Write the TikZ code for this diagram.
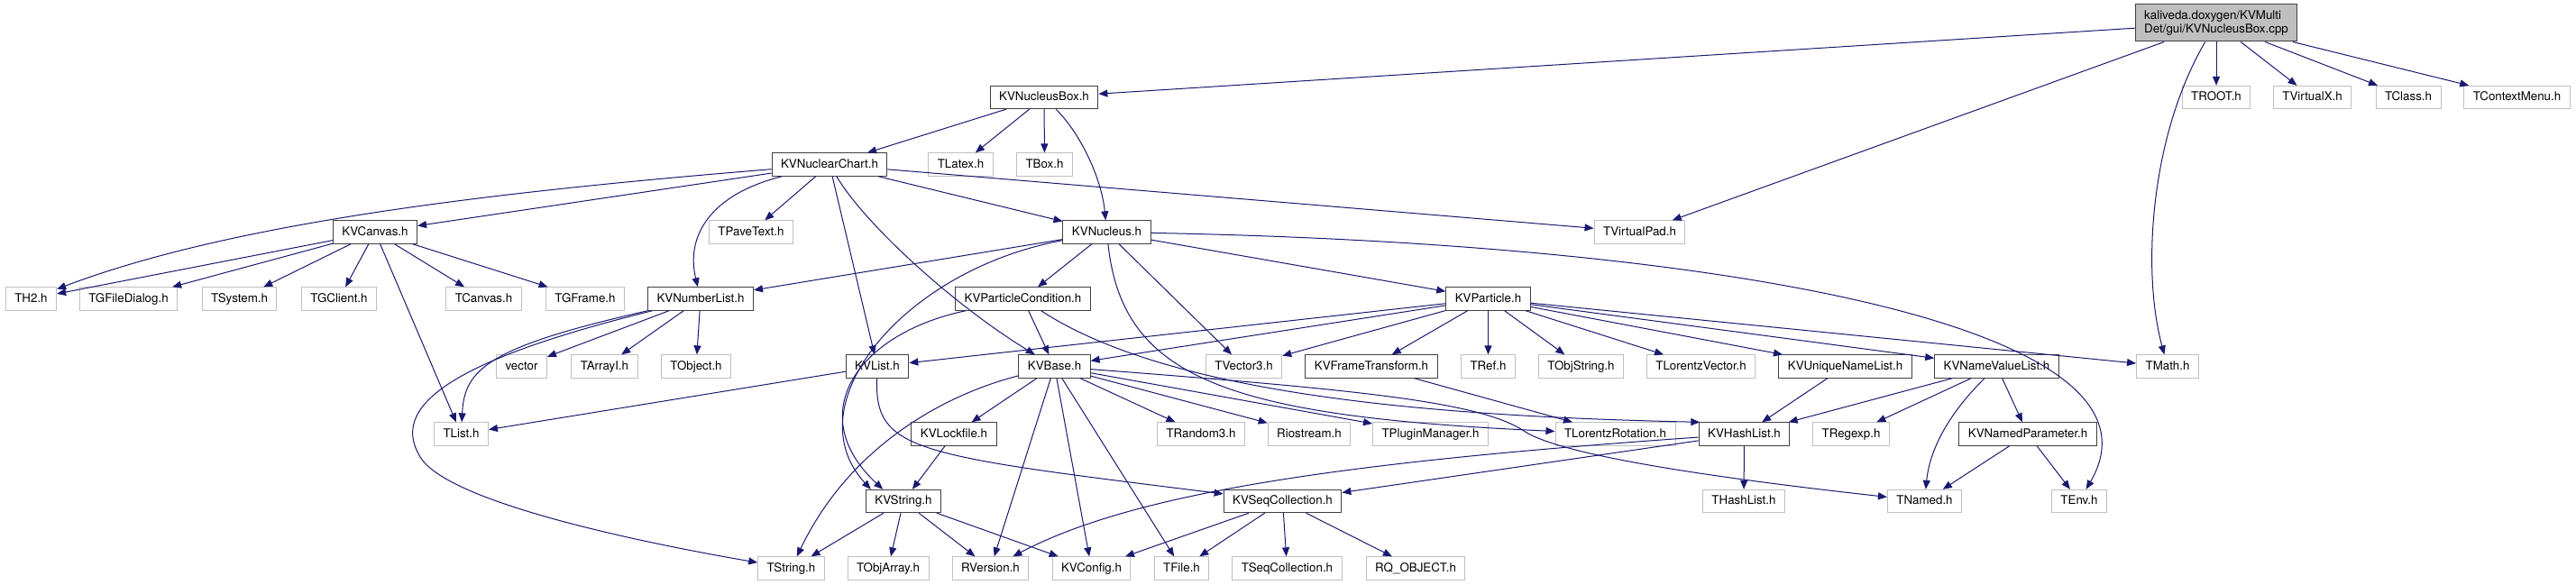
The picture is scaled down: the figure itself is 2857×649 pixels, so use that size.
\documentclass[tikz,border=0pt]{standalone}
\usepackage{fontspec}
\setmainfont{TeX Gyre Heros}
\usetikzlibrary{arrows.meta}
\definecolor{edgeblue}{RGB}{25,25,112}
\definecolor{docborder}{RGB}{64,64,64}
\definecolor{extborder}{RGB}{191,191,191}
\definecolor{rootfill}{RGB}{191,191,191}

\begin{document}
\begin{tikzpicture}[
        x=0.75pt, y=-0.75pt,
        font=\fontsize{10}{11.5}\selectfont,
        filebox/.style={line width=0.75pt, inner xsep=7.5pt, inner ysep=0pt},
        docfile/.style={filebox, draw=docborder, minimum height=19pt, text height=7.5pt, text depth=2.2pt},
        extfile/.style={docfile, draw=extborder},
        rootfile/.style={filebox, draw=docborder, fill=rootfill, align=left, minimum height=30.75pt},
        arr/.style={-{Triangle[length=7.5pt, width=6pt]}, draw=edgeblue, line width=0.75pt}
    ]
        \useasboundingbox (0,0) rectangle (2857,649);

        \node[rootfile] (src) at (2458,25.5) {kaliveda.doxygen/KVMulti\\Det/gui/KVNucleusBox.cpp};

        \node[docfile] (nbox)   at (1158,108)   {KVNucleusBox.h};
        \node[extfile] (troot)  at (2458,108)   {TROOT.h};
        \node[extfile] (tvirtx) at (2564.5,108) {TVirtualX.h};
        \node[extfile] (tclass) at (2671,108)   {TClass.h};
        \node[extfile] (tctx)   at (2791.5,108) {TContextMenu.h};

        \node[docfile] (chart)  at (920,182.5)    {KVNuclearChart.h};
        \node[extfile] (tlatex) at (1065.5,182.5) {TLatex.h};
        \node[extfile] (tbox)   at (1158.5,182.5) {TBox.h};

        \node[docfile] (canvas)  at (416,257.5)    {KVCanvas.h};
        \node[extfile] (tpave)   at (833,257.5)    {TPaveText.h};
        \node[docfile] (nucleus) at (1227.5,257.5) {KVNucleus.h};
        \node[extfile] (tvpad)   at (1818.5,257.5) {TVirtualPad.h};

        \node[extfile] (th2)      at (34.5,331.5)   {TH2.h};
        \node[extfile] (tgfd)     at (142.5,331.5)  {TGFileDialog.h};
        \node[extfile] (tsys)     at (265.5,331.5)  {TSystem.h};
        \node[extfile] (tgcl)     at (376,331.5)    {TGClient.h};
        \node[extfile] (tcanv)    at (536.5,331.5)  {TCanvas.h};
        \node[extfile] (tgfr)     at (649,331.5)    {TGFrame.h};
        \node[docfile] (numlist)  at (777,331.5)    {KVNumberList.h};
        \node[docfile] (pcond)    at (1134.5,331.5) {KVParticleCondition.h};
        \node[docfile] (particle) at (1650.5,331.5) {KVParticle.h};

        \node[extfile] (vec)     at (578.5,406.5)  {vector};
        \node[extfile] (tarr)    at (670.5,406.5)  {TArrayI.h};
        \node[extfile] (tobj)    at (772,406.5)    {TObject.h};
        \node[docfile] (kvlist)  at (973,406.5)    {KVList.h};
        \node[docfile] (kvbase)  at (1169.5,406.5) {KVBase.h};
        \node[extfile] (tvec3)   at (1379.5,406.5) {TVector3.h};
        \node[docfile] (frame)   at (1521,406.5)   {KVFrameTransform.h};
        \node[extfile] (tref)    at (1650.5,406.5) {TRef.h};
        \node[extfile] (tobjstr) at (1753.5,406.5) {TObjString.h};
        \node[extfile] (tlvec)   at (1886.5,406.5) {TLorentzVector.h};
        \node[docfile] (uniq)    at (2046.5,406.5) {KVUniqueNameList.h};
        \node[docfile] (nvlist)  at (2214.5,406.5) {KVNameValueList.h};
        \node[extfile] (tmath)   at (2404,406.5)   {TMath.h};

        \node[extfile] (tlist) at (511.5,481.5)  {TList.h};
        \node[docfile] (lockf) at (1058,481.5)   {KVLockfile.h};
        \node[extfile] (trand) at (1332,481.5)   {TRandom3.h};
        \node[extfile] (rio)   at (1452,481.5)   {Riostream.h};
        \node[extfile] (tplug) at (1586.5,481.5) {TPluginManager.h};
        \node[extfile] (tlrot) at (1791.5,481.5) {TLorentzRotation.h};
        \node[docfile] (hlist) at (1934.5,481.5) {KVHashList.h};
        \node[extfile] (tregx) at (2053,481.5)   {TRegexp.h};
        \node[docfile] (npar)  at (2249,481.5)   {KVNamedParameter.h};

        \node[docfile] (kvstr)  at (1002,556)   {KVString.h};
        \node[docfile] (seqc)   at (1422.5,556) {KVSeqCollection.h};
        \node[extfile] (thash)  at (1934,556)   {THashList.h};
        \node[extfile] (tnamed) at (2134.5,556) {TNamed.h};
        \node[extfile] (tenv)   at (2306,556)   {TEnv.h};

        \node[extfile] (tstr)    at (877.5,630.5)  {TString.h};
        \node[extfile] (tobjarr) at (985,630.5)    {TObjArray.h};
        \node[extfile] (rver)    at (1098.5,630.5) {RVersion.h};
        \node[extfile] (kvconf)  at (1210.5,630.5) {KVConfig.h};
        \node[extfile] (tfile)   at (1310.5,630.5) {TFile.h};
        \node[extfile] (tseqc)   at (1427.5,630.5) {TSeqCollection.h};
        \node[extfile] (rqobj)   at (1570,630.5)   {RQ\_OBJECT.h};

        \draw[arr] (src) -- (nbox);
        \draw[arr] (src) -- (tvpad);
        \draw[arr] (src) .. controls (2385,150) and (2375,300) .. (tmath);
        \draw[arr] (src) -- (troot);
        \draw[arr] (src) -- (tvirtx);
        \draw[arr] (src) -- (tclass);
        \draw[arr] (src) -- (tctx);

        \draw[arr] (nbox) -- (chart);
        \draw[arr] (nbox) -- (tlatex);
        \draw[arr] (nbox) -- (tbox);
        \draw[arr] (nbox) .. controls (1200,150) and (1222,200) .. (nucleus);

        \draw[arr] (chart) .. controls (520,215) and (250,250) .. (th2);
        \draw[arr] (chart) -- (canvas);
        \draw[arr] (chart) .. controls (790,215) and (760,260) .. (numlist);
        \draw[arr] (chart) -- (tpave);
        \draw[arr] (chart) -- (kvlist);
        \draw[arr] (chart) .. controls (960,250) and (1060,340) .. (kvbase);
        \draw[arr] (chart) -- (nucleus);
        \draw[arr] (chart) -- (tvpad);

        \draw[arr] (canvas) -- (th2);
        \draw[arr] (canvas) -- (tgfd);
        \draw[arr] (canvas) -- (tsys);
        \draw[arr] (canvas) -- (tgcl);
        \draw[arr] (canvas) -- (tcanv);
        \draw[arr] (canvas) -- (tgfr);
        \draw[arr] (canvas) -- (tlist);

        \draw[arr] (nucleus) -- (numlist);
        \draw[arr] (nucleus) .. controls (1000,300) and (880,450) .. (kvstr.160);
        \draw[arr] (nucleus) -- (pcond);
        \draw[arr] (nucleus) -- (tvec3);
        \draw[arr] (nucleus) -- (particle);
        \draw[arr] (nucleus) .. controls (1900,270) and (2420,360) .. (tenv);
        \draw[arr] (nucleus) .. controls (1245,420) and (1360,462) .. (tlrot);

        \draw[arr] (numlist) .. controls (540,385) and (515,410) .. (tlist);
        \draw[arr] (numlist) .. controls (520,395) and (430,445) .. (465,505)
                             .. controls (490,555) and (700,600) .. (tstr);
        \draw[arr] (numlist) -- (vec);
        \draw[arr] (numlist) -- (tarr);
        \draw[arr] (numlist) -- (tobj);

        \draw[arr] (pcond) -- (kvbase);
        \draw[arr] (pcond) .. controls (950,370) and (890,460) .. (kvstr.150);
        \draw[arr] (pcond) .. controls (1300,440) and (1600,462) .. (hlist.165);

        \draw[arr] (particle) -- (kvlist);
        \draw[arr] (particle) -- (kvbase);
        \draw[arr] (particle) -- (tvec3);
        \draw[arr] (particle) -- (frame);
        \draw[arr] (particle) -- (tref);
        \draw[arr] (particle) -- (tobjstr);
        \draw[arr] (particle) -- (tlvec);
        \draw[arr] (particle) -- (uniq);
        \draw[arr] (particle) -- (nvlist);
        \draw[arr] (particle) -- (tmath);

        \draw[arr] (kvlist) -- (tlist);
        \draw[arr] (kvlist) .. controls (970,500) and (1010,505) .. (seqc);

        \draw[arr] (kvbase) .. controls (1040,440) and (940,500) .. (tstr);
        \draw[arr] (kvbase) -- (lockf);
        \draw[arr] (kvbase) -- (rver);
        \draw[arr] (kvbase) -- (kvconf);
        \draw[arr] (kvbase) -- (tfile);
        \draw[arr] (kvbase) -- (trand);
        \draw[arr] (kvbase) -- (rio);
        \draw[arr] (kvbase) -- (tplug);
        \draw[arr] (kvbase) .. controls (1500,432) and (1640,445) .. (1690,478)
                            .. controls (1730,505) and (1900,530) .. (tnamed);

        \draw[arr] (lockf) -- (kvstr);
        \draw[arr] (kvstr) -- (tstr);
        \draw[arr] (kvstr) -- (tobjarr);
        \draw[arr] (kvstr) -- (rver);
        \draw[arr] (kvstr) -- (kvconf);

        \draw[arr] (frame) -- (tlrot);
        \draw[arr] (uniq) -- (hlist);

        \draw[arr] (nvlist) -- (hlist);
        \draw[arr] (nvlist) -- (tregx);
        \draw[arr] (nvlist) .. controls (2160,460) and (2140,500) .. (tnamed);
        \draw[arr] (nvlist) -- (npar);
        \draw[arr] (npar) -- (tnamed);
        \draw[arr] (npar) -- (tenv);

        \draw[arr] (hlist) -- (thash);
        \draw[arr] (hlist) -- (seqc);
        \draw[arr] (hlist) .. controls (1500,512) and (1260,545) .. (rver);

        \draw[arr] (seqc) -- (kvconf);
        \draw[arr] (seqc) -- (tfile);
        \draw[arr] (seqc) -- (tseqc);
        \draw[arr] (seqc) -- (rqobj);
    \end{tikzpicture}
\end{document}
